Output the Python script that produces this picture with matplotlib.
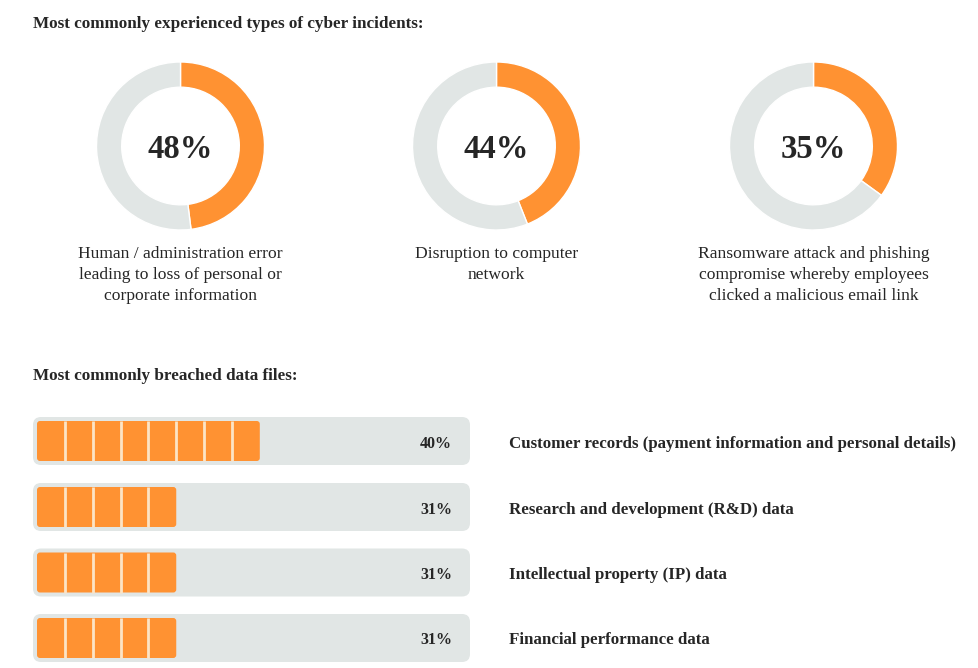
import matplotlib.pyplot as plt
from matplotlib.patches import FancyBboxPatch

# data
incident_pct = [48, 44, 35]
incident_labels = [
    "Human / administration error\nleading to loss of personal or\ncorporate information",
    "Disruption to computer\nnetwork",
    "Ransomware attack and phishing\ncompromise whereby employees\nclicked a malicious email link",
]
file_pct = [40, 31, 31, 31]
file_blocks = [8, 5, 5, 5]
file_labels = [
    "Customer records (payment information and personal details)",
    "Research and development (R&D) data",
    "Intellectual property (IP) data",
    "Financial performance data",
]

orange = "#FF9232"
grey = "#E1E6E5"
cream = "#FCE4C6"
ink = "#262626"
serif = ["Liberation Serif", "DejaVu Serif"]

W, H = 979, 668
fig = plt.figure(figsize=(W / 100, H / 100), dpi=100)
ax = fig.add_axes([0, 0, 1, 1])
ax.set_xlim(0, W)
ax.set_ylim(H, 0)
ax.axis("off")

ax.text(33, 24.5, "Most commonly experienced types of cyber incidents:", fontsize=12.3,
        fontweight="bold", color=ink, family=serif, va="center", ha="left")
ax.text(33, 376.5, "Most commonly breached data files:", fontsize=12.3,
        fontweight="bold", color=ink, family=serif, va="center", ha="left")

# donuts
centers_x = [180.5, 496.5, 813.5]
cy, R = 146, 84
for cx, p, lab in zip(centers_x, incident_pct, incident_labels):
    dax = fig.add_axes([(cx - R) / W, 1 - (cy + R) / H, 2 * R / W, 2 * R / H])
    dax.pie([p, 100 - p], colors=[orange, grey], startangle=90, counterclock=False,
            wedgeprops=dict(width=0.3, edgecolor="white", linewidth=1))
    dax.set_xlim(-1, 1)
    dax.set_ylim(-1, 1)
    dax.set_aspect("equal")
    dax.text(0, -0.04, f"{p}%", fontsize=23.5, fontweight="bold", color=ink, family=serif,
             ha="center", va="center")
    ax.text(cx, 246.5, lab, fontsize=12.6, color=ink, family=serif, ha="center", va="top",
            linespacing=1.4)

# segmented bars
row_y = [441, 507, 572.5, 638]
track_x0, track_x1 = 33, 470
fill_x0, pitch = 37, 27.85
for y, p, nb, lab in zip(row_y, file_pct, file_blocks, file_labels):
    ax.add_patch(FancyBboxPatch((track_x0, y - 24), track_x1 - track_x0, 48,
                                boxstyle="round,pad=0,rounding_size=8",
                                fc=grey, ec="none"))
    ax.add_patch(FancyBboxPatch((fill_x0, y - 20), nb * pitch, 40,
                                boxstyle="round,pad=0,rounding_size=3",
                                fc=orange, ec="none"))
    for i in range(1, nb):
        ax.plot([fill_x0 + i * pitch] * 2, [y - 20, y + 20], color=cream, lw=2,
                solid_capstyle="butt")
    ax.text(436, y + 2.5, f"{p}%", fontsize=11.5, fontweight="bold", color=ink, family=serif,
            ha="center", va="center")
    ax.text(509, y + 2.5, lab, fontsize=12.2, fontweight="bold", color=ink, family=serif,
            ha="left", va="center")

fig.savefig("out.png", dpi=100, facecolor="white")
